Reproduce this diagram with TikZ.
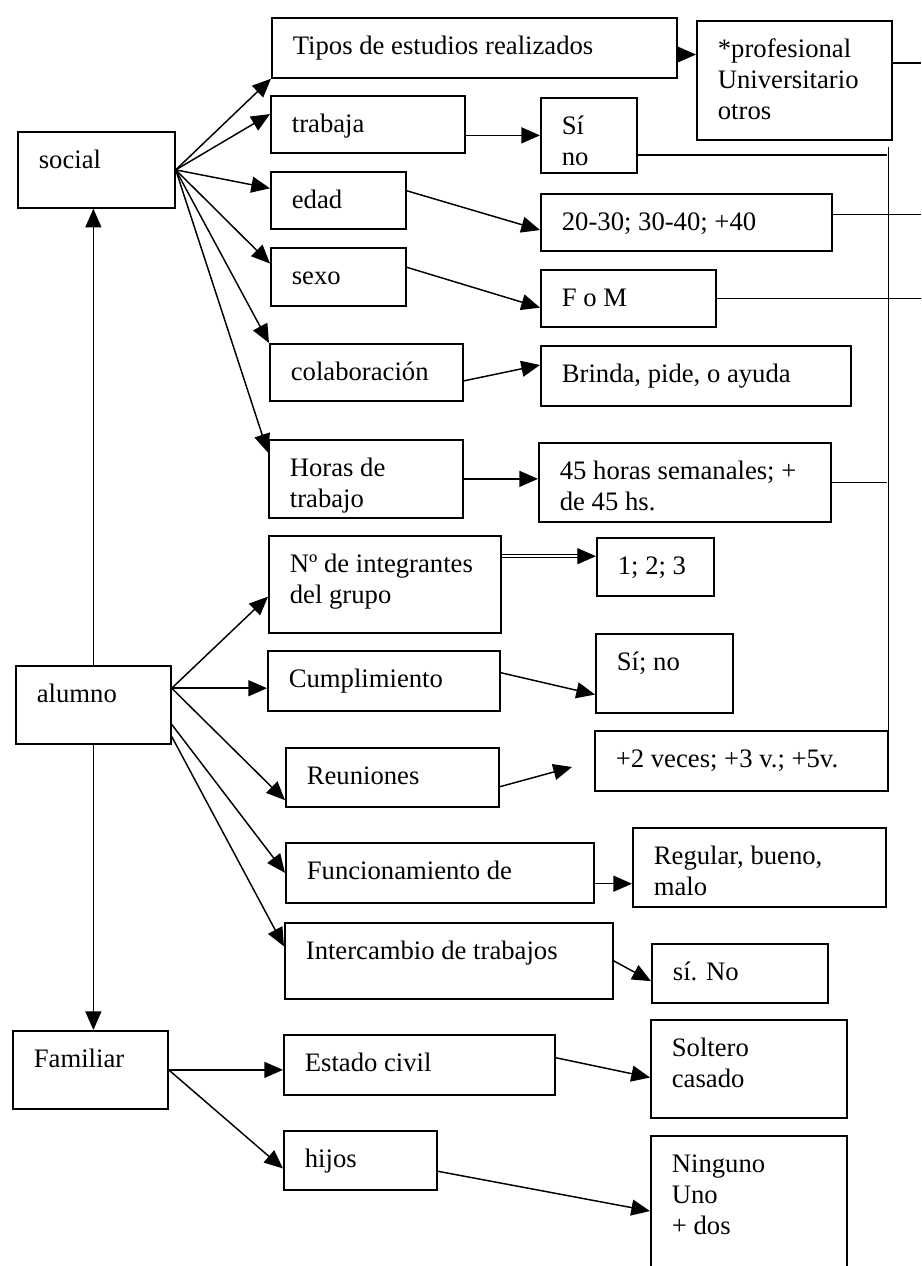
\documentclass[tikz,border=0pt]{standalone}
\usepackage{fontspec}
\setmainfont{Liberation Serif}
\usetikzlibrary{arrows.meta}

\newlength{\unidad}
\setlength{\unidad}{0.75pt}
% box text: width, height, text (in picture units)
\newcommand{\textocaja}[3]{\parbox[b][#2\unidad][t]{#1\unidad}{\raggedright\leftskip=21\unidad\vspace*{15\unidad}\strut#3}}

\tikzset{
  caja/.style={draw, line width=1.3pt, inner sep=0pt, anchor=north west, font=\fontsize{20}{23.25}\selectfont},
  flecha/.style={line width=1.1pt, -{Triangle[length=14pt,width=12pt]}},
  linea/.style={line width=1.1pt},
  doble/.style={double, double distance=1.6pt, line width=0.8pt, -{Triangle[length=14pt,width=12pt]}}
}

\begin{document}
\begin{tikzpicture}[x=0.75pt,y=0.75pt,yscale=-1,xscale=1]
\clip (0,0) rectangle (921,1266);

%Shape: Rectangle (first column)
\node[caja] (social) at (17,131) {\textocaja{157}{76}{social}};
\node[caja] (alumno) at (15,665) {\textocaja{155}{78}{alumno}};
\node[caja] (familiar) at (12,1030) {\textocaja{155}{78}{Familiar}};

%Shape: Rectangle (second column)
\node[caja] (tipos) at (271,17) {\textocaja{405}{60}{Tipos de estudios realizados}};
\node[caja] (trabaja) at (270,95) {\textocaja{194}{57}{trabaja}};
\node[caja] (edad) at (270,171) {\textocaja{135}{57}{edad}};
\node[caja] (sexo) at (270,247) {\textocaja{135}{58}{sexo}};
\node[caja] (colab) at (269,343) {\textocaja{193}{57}{colaboración}};
\node[caja] (horas) at (268,439) {\textocaja{194}{78}{Horas de\\trabajo}};
\node[caja] (integ) at (268,535) {\textocaja{232}{97}{Nº de integrantes\\del grupo}};
\node[caja] (cumpl) at (267,650) {\textocaja{232}{60}{Cumplimiento}};
\node[caja] (reun) at (285,747) {\textocaja{213}{59}{Reuniones}};
\node[caja] (func) at (285,842) {\textocaja{308}{60}{Funcionamiento de}};
\node[caja] (inter) at (284,922) {\textocaja{328}{76}{Intercambio de trabajos}};
\node[caja] (estado) at (283,1034) {\textocaja{271}{60}{Estado civil}};
\node[caja] (hijos) at (283,1130) {\textocaja{153}{59}{hijos}};

%Shape: Rectangle (third column)
\node[caja] (prof) at (696,20) {\textocaja{195}{119}{*profesional\\Universitario\\otros}};
\node[caja] (sino) at (540,97) {\textocaja{96}{75}{Sí\\no}};
\node[caja] (rango) at (540,193) {\textocaja{291}{57}{20-30; 30-40; +40}};
\node[caja] (fom) at (540,269) {\textocaja{175}{57}{F o M}};
\node[caja] (brinda) at (540,345) {\textocaja{310}{60}{Brinda, pide, o ayuda}};
\node[caja] (semana) at (538,442) {\textocaja{292}{79}{45 horas semanales; +\\de 45 hs.}};
\node[caja] (num) at (596,537) {\textocaja{117}{58}{1; 2; 3}};
\node[caja] (sino2) at (595,633) {\textocaja{137}{79}{Sí; no}};
\node[caja] (veces) at (594,730) {\textocaja{293}{60}{+2 veces; +3 v.; +5v.}};
\node[caja] (regular) at (632,827) {\textocaja{253}{79}{Regular, bueno,\\malo}};
\node[caja] (sino3) at (651,943) {\textocaja{176}{59}{sí. No}};
\node[caja] (soltero) at (650,1019) {\textocaja{196}{98}{Soltero\\casado}};
\node[caja] (ninguno) at (650,1135) {\textocaja{196}{140}{Ninguno\\Uno\\+ dos}};

\coordinate (borde) at (921,0);
\coordinate (colsup) at (887,147);
\coordinate (reunfin) at (572,767);
\coordinate (dobfin) at ([yshift=-8pt]num.west);

%Straight Lines (social)
\draw[flecha] (social.east) -- (tipos.south west);
\draw[flecha] (social.east) -- (trabaja.174);
\draw[flecha] (social.east) -- (edad.170);
\draw[flecha] (social.east) -- (sexo.169);
\draw[flecha] (social.east) -- (colab.north west);
\draw[flecha] (social.east) -- (horas.165);
%Straight Lines (vertical)
\draw[flecha] (alumno.north) -- (alumno.north |- social.south);
\draw[flecha] (alumno.south) -- (alumno.south |- familiar.north);
%Straight Lines (alumno)
\draw[flecha] (alumno.12) -- (integ.186);
\draw[flecha] (alumno.12) -- (alumno.12 -| cumpl.west);
\draw[flecha] (alumno.12) -- (reun.192);
\draw[flecha] (alumno.-14) -- (func.west);
\draw[flecha] (alumno.-22) -- (inter.175);
%Straight Lines (familiar)
\draw[flecha] (familiar.east) -- (familiar.east -| estado.west);
\draw[flecha] (familiar.east) -- (hijos.186);

%Straight Lines (second to third column)
\draw[flecha] ([yshift=5pt]tipos.east) -- ([yshift=5pt]tipos.east -| prof.west);
\draw[flecha] (trabaja.east |- sino.west) -- (sino.west);
\draw[flecha] (edad.8) -- (rango.183);
\draw[flecha] (sexo.8) -- (fom.186);
\draw[flecha] (colab.-5) -- (brinda.176);
\draw[flecha] (horas.east) -- (horas.east -| semana.west);
\draw[doble] (dobfin -| integ.east) -- (dobfin);
\draw[flecha] (cumpl.4) -- (sino2.197);
\draw[flecha] (reun.-5) -- (reunfin);
\draw[flecha] (func.-4) -- (func.-4 -| regular.west);
\draw[flecha] (inter.east) -- (sino3.185);
\draw[flecha] (estado.3) -- (soltero.185);
\draw[flecha] (hijos.-8) -- (ninguno.183);

%Straight Lines (right side)
\draw[linea] (prof.10) -- (prof.10 -| borde);
\draw[linea] (sino.-22) -- (sino.-22 -| colsup);
\draw[linea] (veces.north east) -- (veces.north east |- colsup);
\draw[linea] (rango.3) -- (rango.3 -| borde);
\draw[linea] (fom.east) -- (fom.east -| borde);
\draw[linea] (semana.east) -- (semana.east -| colsup);

\end{tikzpicture}
\end{document}
